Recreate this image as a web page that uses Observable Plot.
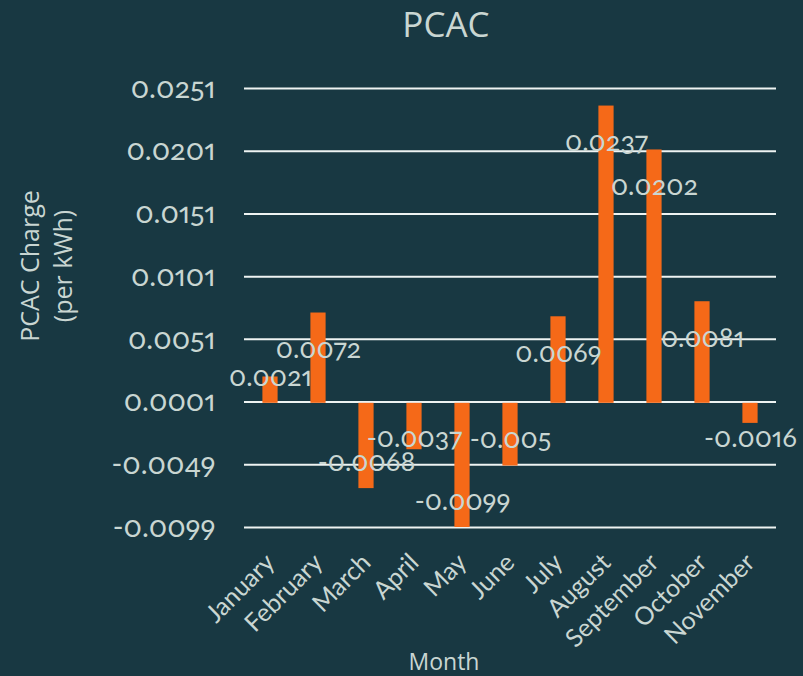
<!DOCTYPE html>
<html>
<head>
<meta charset="utf-8">
<script src="https://cdn.jsdelivr.net/npm/d3@7"></script>
<script src="https://cdn.jsdelivr.net/npm/@observablehq/plot@0.6"></script>
<style>
  html, body { margin: 0; padding: 0; background: #183842; }
  #chart { width: 803px; height: 676px; }
  #chart svg text { font-variant-numeric: oldstyle-nums proportional-nums; font-feature-settings: "onum" 1, "pnum" 1; }
</style>
</head>
<body>
<div id="chart"></div>
<script>
const months = ["January", "February", "March", "April", "May", "June", "July", "August", "September", "October", "November"];
const values = [0.0021, 0.0072, -0.0068, -0.0037, -0.0099, -0.005, 0.0069, 0.0237, 0.0202, 0.0081, -0.0016];
const yTicks = [-0.0099, -0.0049, 0.0001, 0.0051, 0.0101, 0.0151, 0.0201, 0.0251];
const labels = ["0.0021", "0.0072", "-0.0068", "-0.0037", "-0.0099", "-0.005", "0.0069", "0.0237", "0.0202", "0.0081", "-0.0016"];

const data = months.map((m, i) => ({month: m, value: values[i], label: labels[i]}));

// label anchor (in data units) relative to bar end, mimicking the reference placement
const labelY = v => v > 0 ? (v > 0.004 ? v - 0.0029 : v) : Math.min(v + 0.0021, -0.0028);

const textColor = "#c9d6d2";
const bg = "#183842";

const chart = Plot.plot({
  width: 803,
  height: 676,
  marginLeft: 244,
  marginRight: 27,
  marginTop: 88,
  marginBottom: 149,
  style: {background: bg, color: textColor, fontFamily: "Lato, 'Open Sans', sans-serif", fontSize: "27px"},
  x: {domain: months, padding: 0, label: null, tickRotate: -45, tickSize: 0, tickPadding: 31},
  y: {domain: [-0.0099, 0.0251], label: null, ticks: yTicks, tickFormat: d => d.toFixed(4), tickSize: 0, tickPadding: 29},
  marks: [
    Plot.ruleY(yTicks, {stroke: "#eef3f2", strokeWidth: 2}),
    Plot.barY(data, {x: "month", y: "value", fill: "#f56918", insetLeft: 16.4, insetRight: 16.4}),
    Plot.text(data, {x: "month", y: d => labelY(d.value), text: "label", fill: textColor, fontSize: 27, lineAnchor: "middle"})
  ]
});

document.getElementById("chart").appendChild(chart);

const svg = d3.select(chart);
svg.selectAll("[aria-label='x-axis tick label'] text, [aria-label='x-axis'] text").style("font-size", "25px");
svg.selectAll("[aria-label='y-axis tick label'] text, [aria-label='y-axis'] text").style("font-size", "29px");

svg.append("text")
  .attr("x", 446).attr("y", 37)
  .attr("text-anchor", "middle")
  .attr("fill", textColor)
  .style("font-family", "'Open Sans', sans-serif")
  .style("font-size", "35px")
  .text("PCAC");

svg.append("text")
  .attr("x", 444).attr("y", 670)
  .attr("text-anchor", "middle")
  .attr("fill", textColor)
  .style("font-family", "'Open Sans', sans-serif")
  .style("font-size", "23px")
  .text("Month");

const yl = svg.append("text")
  .attr("transform", "translate(39,266) rotate(-90)")
  .attr("text-anchor", "middle")
  .attr("fill", textColor)
  .style("font-family", "'Open Sans', sans-serif")
  .style("font-size", "25px");
yl.append("tspan").attr("x", 0).attr("dy", 0).text("PCAC Charge");
yl.append("tspan").attr("x", 0).attr("dy", 33).text("(per kWh)");
</script>
</body>
</html>
